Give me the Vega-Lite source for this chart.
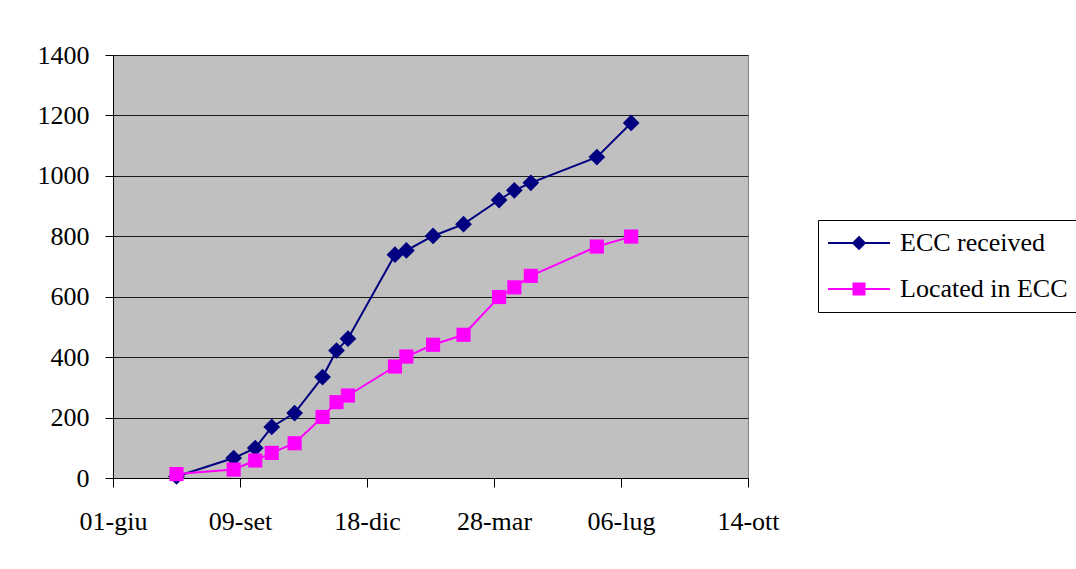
{
  "$schema": "https://vega.github.io/schema/vega-lite/v6.json",
  "autosize": {"type": "none"},
  "padding": {"left": 113, "top": 55, "right": 328, "bottom": 91},
  "width": 635,
  "height": 423,
  "background": "white",
  "config": {
    "view": {"fill": "#C0C0C0", "stroke": "#808080", "strokeWidth": 1},
    "font": "Liberation Serif",
    "axis": {
      "labelFont": "Liberation Serif",
      "labelFontSize": 26,
      "labelColor": "black",
      "domainColor": "#000000",
      "tickColor": "#000000",
      "title": null
    }
  },
  "data": {
    "values": [
      {"date": "2005-07-21", "series": "ECC received", "value": 5},
      {"date": "2005-09-04", "series": "ECC received", "value": 66},
      {"date": "2005-09-21", "series": "ECC received", "value": 99},
      {"date": "2005-10-04", "series": "ECC received", "value": 169},
      {"date": "2005-10-22", "series": "ECC received", "value": 215},
      {"date": "2005-11-13", "series": "ECC received", "value": 334},
      {"date": "2005-11-24", "series": "ECC received", "value": 422},
      {"date": "2005-12-03", "series": "ECC received", "value": 461},
      {"date": "2006-01-09", "series": "ECC received", "value": 739},
      {"date": "2006-01-18", "series": "ECC received", "value": 753},
      {"date": "2006-02-08", "series": "ECC received", "value": 801},
      {"date": "2006-03-04", "series": "ECC received", "value": 840},
      {"date": "2006-04-01", "series": "ECC received", "value": 920},
      {"date": "2006-04-13", "series": "ECC received", "value": 952},
      {"date": "2006-04-26", "series": "ECC received", "value": 977},
      {"date": "2006-06-17", "series": "ECC received", "value": 1062},
      {"date": "2006-07-14", "series": "ECC received", "value": 1175},
      {"date": "2005-07-21", "series": "Located in ECC", "value": 13},
      {"date": "2005-09-04", "series": "Located in ECC", "value": 28},
      {"date": "2005-09-21", "series": "Located in ECC", "value": 58},
      {"date": "2005-10-04", "series": "Located in ECC", "value": 83},
      {"date": "2005-10-22", "series": "Located in ECC", "value": 115},
      {"date": "2005-11-13", "series": "Located in ECC", "value": 202},
      {"date": "2005-11-24", "series": "Located in ECC", "value": 251},
      {"date": "2005-12-03", "series": "Located in ECC", "value": 273},
      {"date": "2006-01-09", "series": "Located in ECC", "value": 369},
      {"date": "2006-01-18", "series": "Located in ECC", "value": 402},
      {"date": "2006-02-08", "series": "Located in ECC", "value": 441},
      {"date": "2006-03-04", "series": "Located in ECC", "value": 474},
      {"date": "2006-04-01", "series": "Located in ECC", "value": 599},
      {"date": "2006-04-13", "series": "Located in ECC", "value": 631},
      {"date": "2006-04-26", "series": "Located in ECC", "value": 669},
      {"date": "2006-06-17", "series": "Located in ECC", "value": 766},
      {"date": "2006-07-14", "series": "Located in ECC", "value": 799}
    ]
  },
  "encoding": {
    "x": {
      "field": "date",
      "type": "temporal",
      "scale": {
        "type": "utc",
        "domain": [
          {"year": 2005, "month": 6, "date": 1, "utc": true},
          {"year": 2006, "month": 10, "date": 14, "utc": true}
        ]
      },
      "axis": {
        "values": [
          {"year": 2005, "month": 6, "date": 1, "utc": true},
          {"year": 2005, "month": 9, "date": 9, "utc": true},
          {"year": 2005, "month": 12, "date": 18, "utc": true},
          {"year": 2006, "month": 3, "date": 28, "utc": true},
          {"year": 2006, "month": 7, "date": 6, "utc": true},
          {"year": 2006, "month": 10, "date": 14, "utc": true}
        ],
        "labelExpr": "utcFormat(datum.value, '%d') + '-' + ['gen','feb','mar','apr','mag','giu','lug','ago','set','ott','nov','dic'][utcmonth(datum.value)]",
        "grid": false,
        "tickSize": 9,
        "labelPadding": 21,
        "labelFlush": false,
        "labelOverlap": false,
        "labelBound": false
      }
    },
    "y": {
      "field": "value",
      "type": "quantitative",
      "scale": {"domain": [0, 1400], "nice": false},
      "axis": {
        "values": [0, 200, 400, 600, 800, 1000, 1200, 1400],
        "format": "d",
        "grid": true,
        "gridColor": "#1a1a1a",
        "gridWidth": 1,
        "tickSize": 8,
        "labelPadding": 16,
        "labelFlush": false,
        "labelOverlap": false
      }
    },
    "color": {
      "field": "series",
      "type": "nominal",
      "scale": {"domain": ["ECC received", "Located in ECC"], "range": ["#000080", "#FF00FF"]},
      "legend": {
        "title": null,
        "orient": "none",
        "legendX": 705,
        "legendY": 165,
        "strokeColor": "#000000",
        "fillColor": "#FFFFFF",
        "padding": 10,
        "rowPadding": 20,
        "labelFont": "Liberation Serif",
        "labelFontSize": 26,
        "labelColor": "#000000",
        "labelLimit": 400,
        "symbolSize": 676,
        "symbolStrokeWidth": 0,
        "symbolOffset": 18,
        "labelOffset": 28,
        "encode": {
          "symbols": {
            "update": {
              "shape": {"signal": "datum.value === 'ECC received' ? 'M-2.38,-0.077L2.38,-0.077L2.38,0.077L-2.38,0.077Z M0,-0.56L0.56,0L0,0.56L-0.56,0Z' : 'M-2.38,-0.077L2.38,-0.077L2.38,0.077L-2.38,0.077Z M-0.5,-0.5L0.5,-0.5L0.5,0.5L-0.5,0.5Z'"},
              "fill": {"signal": "datum.value === 'ECC received' ? '#000080' : '#FF00FF'"},
              "opacity": {"value": 1},
              "fillOpacity": {"value": 1}
            }
          }
        }
      }
    }
  },
  "layer": [
    {
      "mark": {"type": "line", "strokeWidth": 2},
      "encoding": {"detail": {"field": "series"}}
    },
    {
      "transform": [{"filter": "datum.series === 'ECC received'"}],
      "mark": {"type": "point", "filled": true, "opacity": 1, "shape": "diamond", "size": 280}
    },
    {
      "transform": [{"filter": "datum.series === 'Located in ECC'"}],
      "mark": {"type": "point", "filled": true, "opacity": 1, "shape": "square", "size": 200}
    }
  ]
}
